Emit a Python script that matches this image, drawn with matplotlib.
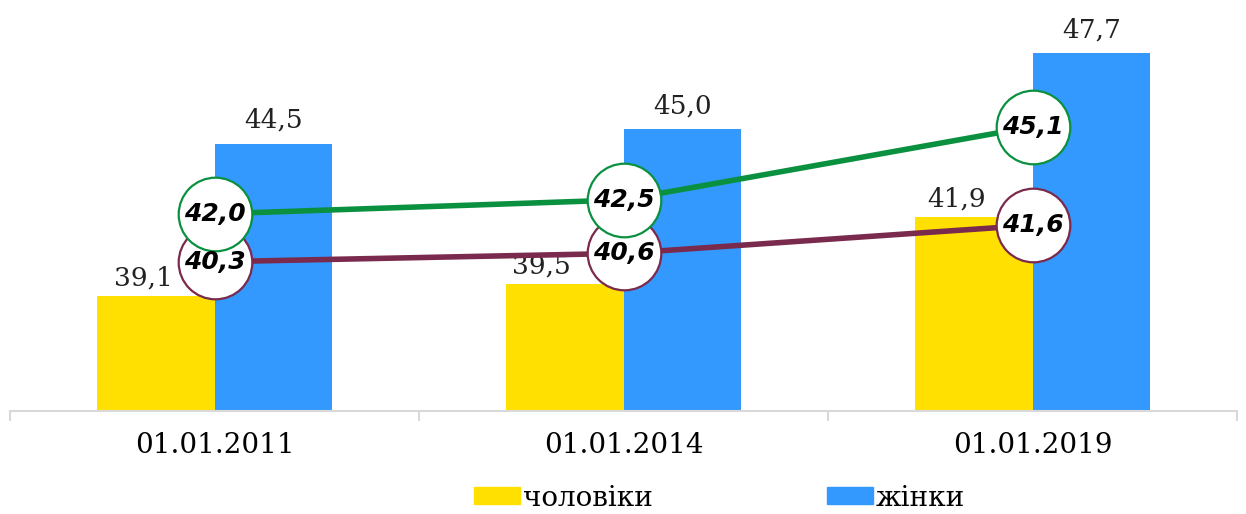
import numpy as np
import matplotlib.pyplot as plt
from matplotlib.patches import Patch

# data
dates = ['01.01.2011', '01.01.2014', '01.01.2019']
men = [39.1, 39.5, 41.9]
women = [44.5, 45.0, 47.7]
line_green = [42.0, 42.5, 45.1]
line_maroon = [40.3, 40.6, 41.6]

yellow = '#FFE000'
blue = '#3399FF'
green = '#0A9140'
maroon = '#7A2A4C'

plt.rcParams['font.family'] = ['DejaVu Serif']

fig = plt.figure(figsize=(12.46, 5.14), dpi=100)
ax = fig.add_axes([10/1246, 103/514, 1227/1246, 411/514])

x = np.arange(len(dates))
bw = 0.288
b1 = ax.bar(x - bw/2, men, bw, color=yellow, zorder=2)
b2 = ax.bar(x + bw/2, women, bw, color=blue, zorder=2)

ax.set_xlim(-0.5, 2.5)
ax.set_ylim(35, 49.6)

# value labels above bars (men labels shifted left a bit, as in the source)
men_dx = [-9, -17, -12]
for xi, v, dx in zip(x, men, men_dx):
    ax.annotate(f'{v:.1f}'.replace('.', ','), (xi - bw/2, v), xytext=(dx, 4),
                textcoords='offset points', ha='center', va='bottom',
                fontsize=19, color='#222222')
for xi, v in zip(x, women):
    ax.annotate(f'{v:.1f}'.replace('.', ','), (xi + bw/2, v), xytext=(0, 8),
                textcoords='offset points', ha='center', va='bottom',
                fontsize=19, color='#222222')

# lines with circle labels
for vals, col in [(line_maroon, maroon), (line_green, green)]:
    ax.plot(x, vals, color=col, lw=4, zorder=3, solid_capstyle='butt')
    ax.plot(x, vals, 'o', ms=53, mfc='white', mec=col, mew=1.6, zorder=4)
    for xi, v in zip(x, vals):
        ax.text(xi, v, f'{v:.1f}'.replace('.', ','), ha='center', va='center',
                fontsize=18, fontweight='bold', fontstyle='italic',
                family='DejaVu Sans', color='black', zorder=5)

# axes styling
for s in ['top', 'right', 'left']:
    ax.spines[s].set_visible(False)
ax.spines['bottom'].set_color('#D9D9D9')
ax.spines['bottom'].set_linewidth(1.5)
ax.set_yticks([])
ax.set_xticks(x)
ax.set_xticklabels(dates, fontsize=20)
ax.tick_params(axis='x', which='major', length=0, pad=15)
ax.set_xticks([-0.5, 0.5, 1.5, 2.5], minor=True)
ax.tick_params(axis='x', which='minor', length=7, width=1.5, color='#D9D9D9')

handles = [Patch(color=yellow, label='чоловіки'), Patch(color=blue, label='жінки')]
fig.legend(handles=handles, loc='center left', bbox_to_anchor=(474/1246, 16/514),
           ncol=2, frameon=False, fontsize=20, handlelength=1.65,
           handleheight=0.54, handletextpad=0.1, columnspacing=6.3,
           borderpad=0, borderaxespad=0)

fig.savefig('out.png', dpi=100)
